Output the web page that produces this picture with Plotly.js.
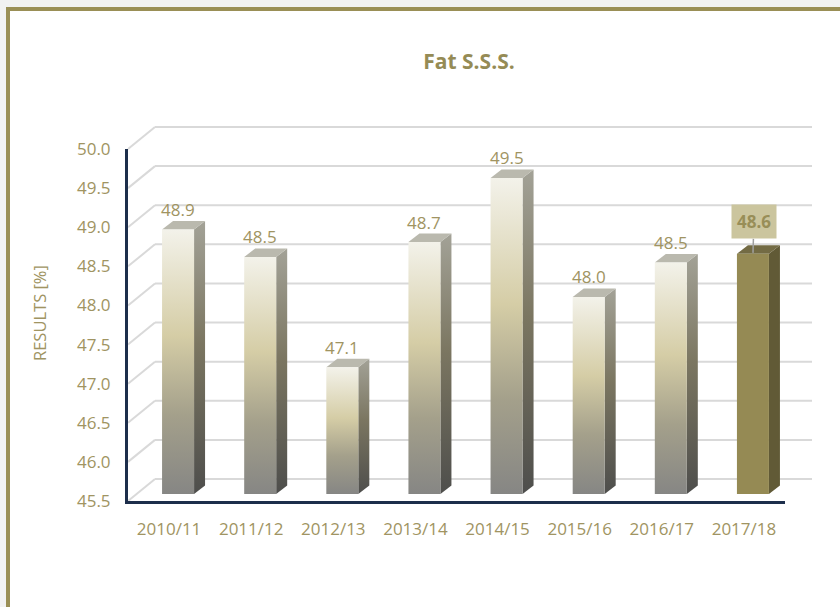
<!DOCTYPE html>
<html>
<head>
<meta charset="utf-8">
<script src="https://cdn.plot.ly/plotly-3.0.1.min.js"></script>
<style>
html,body{margin:0;padding:0;background:#f2f2f2;overflow:hidden;width:840px;height:607px;}
#frame{position:absolute;left:6px;top:7px;width:900px;height:700px;background:#ffffff;border-left:4px solid #9a8f56;border-top:4px solid #9a8f56;}
#chart{position:absolute;left:0;top:0;width:840px;height:607px;}
</style>
</head>
<body>
<div id="frame"></div>
<div id="chart"></div>
<script>
// ---- data ----
const categories = ['2010/11','2011/12','2012/13','2013/14','2014/15','2015/16','2016/17','2017/18'];
const values = [48.88, 48.53, 47.12, 48.72, 49.54, 48.02, 48.46, 48.57];
const yTicks = [45.5, 46.0, 46.5, 47.0, 47.5, 48.0, 48.5, 49.0, 49.5, 50.0];
const yTickLabels = ['45.5','46.0','46.5','47.0','47.5','48.0','48.5','49.0','49.5','50.0'];
const highlightIndex = 7;

// ---- geometry / style ----
const W = 840, H = 607;
const px = x => x / W;
const py = y => 1 - y / H;
const yMin = 45.5, yMax = 50.0;
const front = {x0: 128, x1: 785, yb: 501, yt: 149};
const back = {dx: 27, dy: -22};
const barPlane = {dx: 9, dy: -7};
const pxPerUnit = (front.yb - front.yt) / (yMax - yMin);
const catW = (front.x1 - front.x0) / categories.length;
const halfW = 16 / catW;
const sideDx = 11 / catW;
const sideDy = 8.5 / pxPerUnit;

const textColor = '#a09462';
const gridColor = '#d9d9d9';
const axisColor = '#1d2e4b';
const font = 'Open Sans, Noto Sans, sans-serif';

const frontGrad = [[0,'#868684'],[0.3,'#a4a08b'],[0.6,'#d5cda6'],[1,'#f3f2ea']];
const sideGrad = [[0,'#4e4e4c'],[0.55,'#7b7661'],[1,'#a3a297']];
const topColor = '#bab9ae';
const hiFront = '#958a54', hiSide = '#615a36', hiTop = '#736b44';

const traces = [];
// invisible trace so the front axes are drawn
traces.push({x:[0], y:[yMin], xaxis:'x', yaxis:'y', mode:'markers', marker:{opacity:0}, hoverinfo:'skip', showlegend:false});

values.forEach((v, i) => {
  const x0 = i - halfW, x1 = i + halfW;
  const hi = i === highlightIndex;
  const common = {xaxis:'x3', yaxis:'y3', mode:'lines', line:{width:0}, fill:'toself', hoverinfo:'skip', showlegend:false};
  const side = Object.assign({}, common, {
    x:[x1, x1, x1 + sideDx, x1 + sideDx, x1],
    y:[yMin, v, v + sideDy, yMin + sideDy, yMin]
  });
  if (hi) side.fillcolor = hiSide; else side.fillgradient = {type:'vertical', colorscale: sideGrad};
  traces.push(side);
  traces.push(Object.assign({}, common, {
    x:[x0, x0 + sideDx, x1 + sideDx, x1, x0],
    y:[v, v + sideDy, v + sideDy, v, v],
    fillcolor: hi ? hiTop : topColor
  }));
  const fr = Object.assign({}, common, {
    x:[x0, x0, x1, x1, x0],
    y:[yMin, v, v, yMin, yMin]
  });
  if (hi) fr.fillcolor = hiFront; else fr.fillgradient = {type:'vertical', colorscale: frontGrad};
  traces.push(fr);
});

const shapes = [];
yTicks.forEach(t => {
  const yf = front.yb - (t - yMin) * pxPerUnit;
  const yb = yf + back.dy;
  shapes.push({type:'line', xref:'paper', yref:'paper', layer:'below',
    x0: px(front.x0 + back.dx), x1: px(front.x1 + back.dx), y0: py(yb), y1: py(yb),
    line:{color: gridColor, width: 2}});
  shapes.push({type:'line', xref:'paper', yref:'paper', layer:'below',
    x0: px(front.x0), x1: px(front.x0 + back.dx), y0: py(yf), y1: py(yb),
    line:{color: gridColor, width: 2}});
});

const annotations = [];
values.forEach((v, i) => {
  if (i === highlightIndex) {
    annotations.push({xref:'x3', yref:'y3', x: i, y: v, text: '<b>' + v.toFixed(1) + '</b>',
      showarrow: true, arrowhead: 0, arrowwidth: 1.5, arrowcolor: '#a0a0a0', ax: 1, ay: -32, standoff: 1,
      bgcolor: '#cbc59e', borderpad: 5, font:{family: font, size: 17, color: '#988e58'}});
  } else {
    annotations.push({xref:'x3', yref:'y3', x: i, y: v, text: v.toFixed(1), showarrow: false,
      yanchor: 'middle', yshift: 20, font:{family: font, size: 17, color: textColor}});
  }
});
annotations.push({xref:'paper', yref:'paper', x: px(39), y: py(313), text: 'RESULTS [%]', textangle: -90,
  showarrow: false, xanchor: 'center', yanchor: 'middle', font:{family: font, size: 16.5, color: textColor}});

const layout = {
  width: W, height: H,
  margin: {l:0, r:0, t:0, b:0},
  paper_bgcolor: 'rgba(0,0,0,0)',
  plot_bgcolor: 'rgba(0,0,0,0)',
  showlegend: false,
  title: {text: '<b>Fat S.S.S.</b>', x: px(469), xanchor: 'center', y: py(62), yanchor: 'middle',
    font: {family: font, size: 21, color: '#958b55'}},
  xaxis: {domain: [px(front.x0), px(front.x1)], range: [-0.5, categories.length - 0.5], anchor: 'y',
    tickmode: 'array', tickvals: categories.map((c, i) => i), ticktext: categories,
    ticks: 'outside', ticklen: 11, tickcolor: 'rgba(0,0,0,0)',
    showline: true, linecolor: axisColor, linewidth: 3, showgrid: false, zeroline: false,
    tickfont: {family: font, size: 17, color: textColor}, fixedrange: true},
  yaxis: {domain: [py(front.yb), py(front.yt)], range: [yMin, yMax], anchor: 'x',
    tickmode: 'array', tickvals: yTicks, ticktext: yTickLabels,
    ticks: 'outside', ticklen: 11, tickcolor: 'rgba(0,0,0,0)',
    showline: true, linecolor: axisColor, linewidth: 3, showgrid: false, zeroline: false,
    tickfont: {family: font, size: 17, color: textColor}, fixedrange: true},
  xaxis3: {domain: [px(front.x0 + barPlane.dx), px(front.x1 + barPlane.dx)], range: [-0.5, categories.length - 0.5],
    anchor: 'y3', visible: false, fixedrange: true},
  yaxis3: {domain: [py(front.yb + barPlane.dy), py(front.yt + barPlane.dy)], range: [yMin, yMax],
    anchor: 'x3', visible: false, fixedrange: true},
  shapes: shapes,
  annotations: annotations
};

Plotly.newPlot('chart', traces, layout, {displayModeBar: false, staticPlot: true});
</script>
</body>
</html>
